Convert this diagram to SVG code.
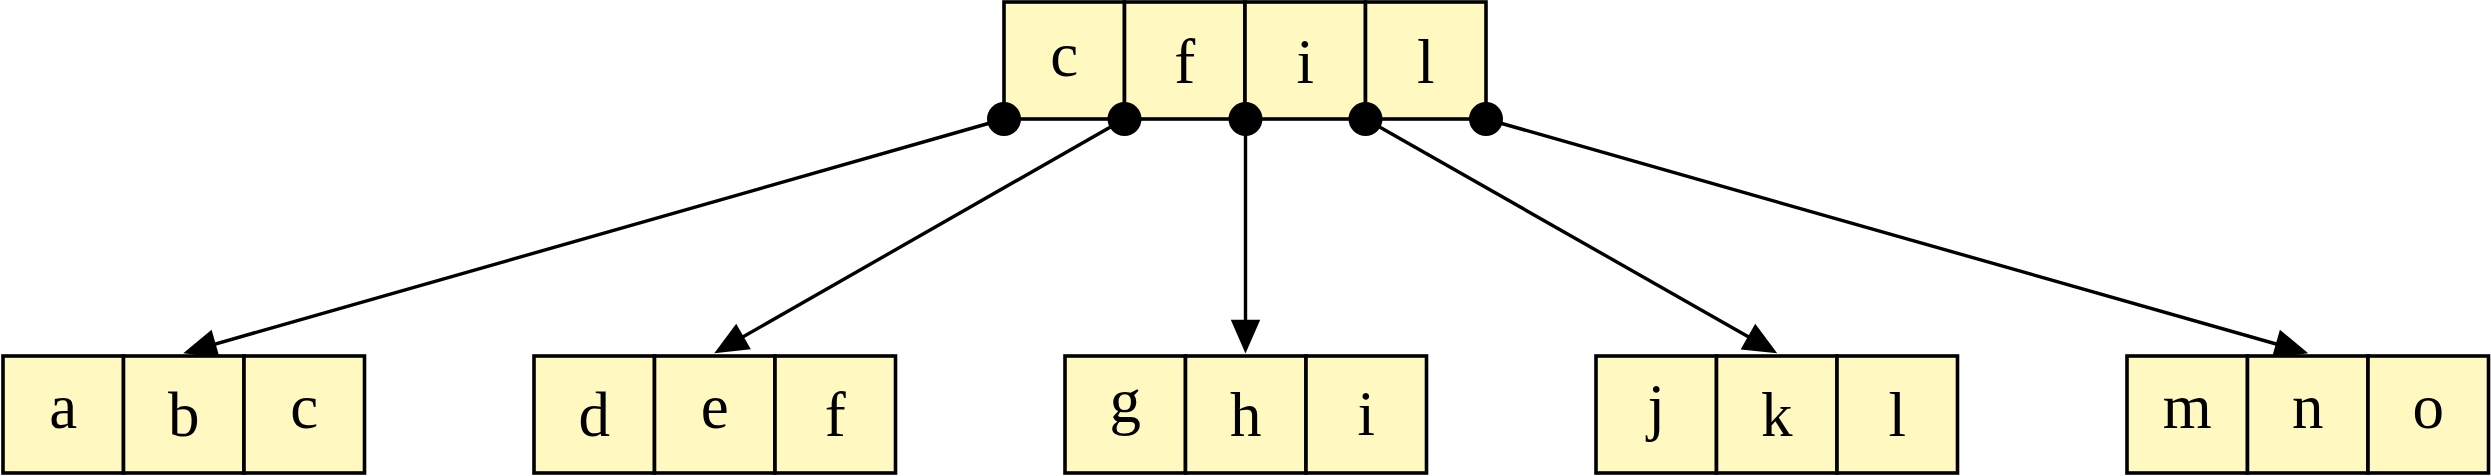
<svg xmlns="http://www.w3.org/2000/svg" width="2491" height="476" viewBox="0 0 2491 476">
<style>
.cell{fill:#fff9c1;stroke:#000;stroke-width:3.6}
.t{font-family:"Liberation Serif","DejaVu Serif",serif;font-size:63px;text-anchor:middle;fill:#000}
.edge{stroke:#000;stroke-width:3.4;fill:none}
.dot{fill:#000}
</style>
<defs>
<marker id="arr" markerUnits="userSpaceOnUse" markerWidth="40" markerHeight="40" viewBox="-2 -16 38 32" refX="22" refY="0" orient="auto">
<path d="M0,-14 L32,0 L0,14 Z" fill="#000"/>
</marker>
</defs>
<rect width="2491" height="476" fill="#fff"/>
<g id="connectors">
<line class="edge" x1="1004" y1="119" x2="193.37" y2="350.26" marker-end="url(#arr)"/>
<line class="edge" x1="1124.5" y1="119" x2="723.43" y2="348.04" marker-end="url(#arr)"/>
<line class="edge" x1="1245.5" y1="119" x2="1245.5" y2="343" marker-end="url(#arr)"/>
<line class="edge" x1="1365.5" y1="119" x2="1768.06" y2="348.05" marker-end="url(#arr)"/>
<line class="edge" x1="1486" y1="119" x2="2298.13" y2="350.26" marker-end="url(#arr)"/>
</g>
<g id="root">
<rect class="cell" x="1004" y="2" width="120.5" height="117"/>
<rect class="cell" x="1124.5" y="2" width="120.5" height="117"/>
<rect class="cell" x="1245" y="2" width="120.5" height="117"/>
<rect class="cell" x="1365.5" y="2" width="120.5" height="117"/>
<text class="t" x="1064.25" y="76">c</text>
<text class="t" x="1184.75" y="83">f</text>
<text class="t" x="1305.25" y="83">i</text>
<text class="t" x="1425.75" y="83">l</text>
<circle class="dot" cx="1004" cy="119" r="17"/>
<circle class="dot" cx="1124.5" cy="119" r="17"/>
<circle class="dot" cx="1245.5" cy="119" r="17"/>
<circle class="dot" cx="1365.5" cy="119" r="17"/>
<circle class="dot" cx="1486" cy="119" r="17"/>
</g>
<g id="leaf-abc">
<rect class="cell" x="3" y="356" width="120.5" height="117"/>
<rect class="cell" x="123.5" y="356" width="120.5" height="117"/>
<rect class="cell" x="244" y="356" width="120.5" height="117"/>
<text class="t" x="63.25" y="428">a</text>
<text class="t" x="183.75" y="436">b</text>
<text class="t" x="304.25" y="428">c</text>
</g>
<g id="leaf-def">
<rect class="cell" x="534" y="356" width="120.5" height="117"/>
<rect class="cell" x="654.5" y="356" width="120.5" height="117"/>
<rect class="cell" x="775" y="356" width="120.5" height="117"/>
<text class="t" x="594.25" y="436">d</text>
<text class="t" x="714.75" y="428">e</text>
<text class="t" x="835.25" y="436">f</text>
</g>
<g id="leaf-ghi">
<rect class="cell" x="1065" y="356" width="120.5" height="117"/>
<rect class="cell" x="1185.5" y="356" width="120.5" height="117"/>
<rect class="cell" x="1306" y="356" width="120.5" height="117"/>
<text class="t" x="1125.25" y="422">g</text>
<text class="t" x="1245.75" y="436">h</text>
<text class="t" x="1366.25" y="435">i</text>
</g>
<g id="leaf-jkl">
<rect class="cell" x="1596" y="356" width="120.5" height="117"/>
<rect class="cell" x="1716.5" y="356" width="120.5" height="117"/>
<rect class="cell" x="1837" y="356" width="120.5" height="117"/>
<text class="t" x="1656.25" y="428">j</text>
<text class="t" x="1776.75" y="436">k</text>
<text class="t" x="1897.25" y="436">l</text>
</g>
<g id="leaf-mno">
<rect class="cell" x="2127" y="356" width="120.5" height="117"/>
<rect class="cell" x="2247.5" y="356" width="120.5" height="117"/>
<rect class="cell" x="2368" y="356" width="120.5" height="117"/>
<text class="t" x="2187.25" y="428">m</text>
<text class="t" x="2307.75" y="428">n</text>
<text class="t" x="2428.25" y="428">o</text>
</g>
</svg>
